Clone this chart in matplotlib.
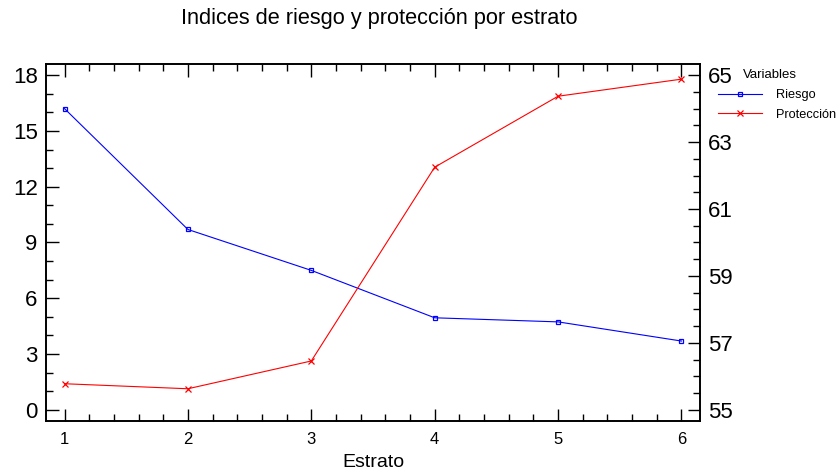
import matplotlib
matplotlib.use("Agg")
import matplotlib.pyplot as plt
from matplotlib.ticker import MultipleLocator, FixedLocator

plt.rcParams['font.family'] = ['Liberation Sans', 'DejaVu Sans']

estrato = [1, 2, 3, 4, 5, 6]
riesgo = [16.2, 9.7, 7.5, 4.95, 4.73, 3.7]
proteccion = [55.78, 55.63, 56.46, 62.25, 64.37, 64.88]
right_ticks = [55, 57, 59, 61, 63, 65]

fig = plt.figure(figsize=(8.38, 4.75), dpi=100)
ax = fig.add_axes([0.0549, 0.1137, 0.7804, 0.7516])
ax2 = ax.twinx()

l1, = ax.plot(estrato, riesgo, color='#0000ff', lw=0.8, marker='s', ms=3.2,
              mfc='none', mec='#0000ff', mew=0.9, label='Riesgo')
l2, = ax2.plot(estrato, proteccion, color='#ff0000', lw=0.8, marker='x', ms=3.8,
               mew=0.9, label='Protección')

ax.set_xlim(0.85, 6.15)
ax.set_ylim(-0.6, 18.6)
ax2.set_ylim(54.667, 65.333)

ax.xaxis.set_major_locator(MultipleLocator(1))
ax.xaxis.set_minor_locator(MultipleLocator(0.2))
ax.yaxis.set_major_locator(MultipleLocator(3))
ax.yaxis.set_minor_locator(MultipleLocator(1))
ax2.yaxis.set_major_locator(FixedLocator(right_ticks))
ax2.yaxis.set_minor_locator(MultipleLocator(0.5))

ax.tick_params(axis='x', which='both', direction='in', top=True, bottom=True,
               labelsize=12, pad=8)
ax.tick_params(axis='y', which='both', direction='in', left=True, right=False,
               labelsize=16, pad=6)
ax.tick_params(which='major', length=9, width=1)
ax.tick_params(which='minor', length=5, width=1)
ax2.tick_params(axis='y', which='both', direction='in', labelsize=16, pad=6)
ax2.tick_params(which='major', length=9, width=1)
ax2.tick_params(which='minor', length=5, width=1)

for a in (ax, ax2):
    for s in a.spines.values():
        s.set_linewidth(1.2)

ax.set_xlabel('Estrato', fontsize=14, labelpad=5)
fig.text(0.452, 0.962, 'Indices de riesgo y protección por estrato',
         fontsize=15.7, ha='center', va='center')

fig.text(0.887, 0.843, 'Variables', fontsize=9.5, ha='left', va='center')
fig.legend(handles=[l1, l2], loc='upper left', bbox_to_anchor=(0.857, 0.812),
           frameon=False, fontsize=9.2, handlelength=3.4, handletextpad=1.1,
           labelspacing=0.6, borderaxespad=0, borderpad=0)

fig.savefig('out.png', dpi=100)
